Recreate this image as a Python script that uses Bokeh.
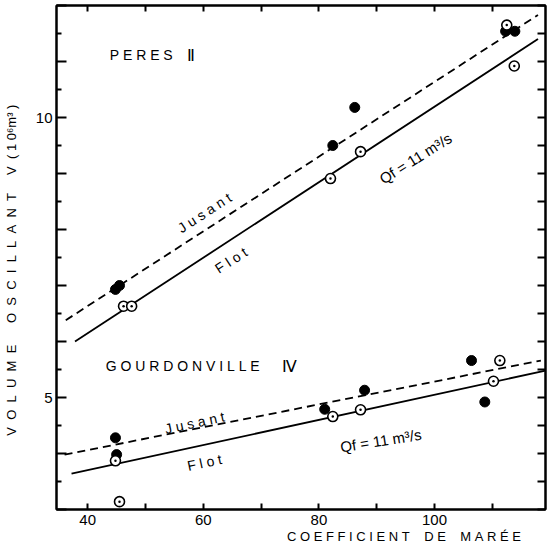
from bokeh.plotting import figure
from bokeh.models import Range1d, LinearAxis, FixedTicker, Label
from bokeh.embed import file_html
from bokeh.resources import INLINE

# ---- data ----
peres_jusant_x = [44.8, 45.5, 82.4, 86.2, 112.3, 113.9]
peres_jusant_y = [6.93, 7.00, 9.50, 10.18, 11.54, 11.54]
peres_flot_x = [46.2, 47.6, 82.0, 87.2, 112.5, 113.8]
peres_flot_y = [6.63, 6.63, 8.91, 9.39, 11.65, 10.92]
gourd_jusant_x = [44.8, 45.0, 81.0, 87.9, 106.4, 108.7]
gourd_jusant_y = [4.28, 3.98, 4.79, 5.13, 5.66, 4.92]
gourd_flot_x = [44.8, 45.5, 82.4, 87.2, 110.2, 111.3]
gourd_flot_y = [3.87, 3.14, 4.66, 4.78, 5.29, 5.66]

peres_jusant_fit_x = [36.2, 117.9]
peres_jusant_fit_y = [6.38, 11.83]
peres_flot_fit_x = [37.8, 117.9]
peres_flot_fit_y = [6.00, 11.40]
gourd_jusant_fit_x = [36.0, 118.4]
gourd_jusant_fit_y = [3.98, 5.66]
gourd_flot_fit_x = [37.2, 119.2]
gourd_flot_fit_y = [3.64, 5.48]

x_ticks = [40, 50, 60, 70, 80, 90, 100, 110]
x_tick_labels = {40: "40", 60: "60", 80: "80", 100: "100"}
y_ticks = [3, 4, 5, 6, 7, 8, 9, 10, 11, 12]
y_minor_ticks = [3.5, 4.5, 5.5, 6.5, 7.5, 8.5, 9.5, 10.5, 11.5]
y_tick_labels = {5: "5", 10: "10"}

NB = "\u00a0"
FONT = "Liberation Sans"


def spaced(word, n=1):
    return (NB * n).join(word)


p = figure(width=547, height=548, output_backend="svg", toolbar_location=None,
           x_range=Range1d(34.6, 119.2), y_range=Range1d(3.0, 12.0),
           min_border_left=56, min_border_right=2, min_border_top=5, min_border_bottom=39)
p.background_fill_color = "white"
p.border_fill_color = "white"
p.outline_line_color = "black"
p.outline_line_width = 2
p.xgrid.visible = False
p.ygrid.visible = False

# bottom axis
xa = p.xaxis[0]
xa.ticker = FixedTicker(ticks=x_ticks)
xa.major_label_overrides = {t: x_tick_labels.get(t, "") for t in x_ticks}
xa.major_tick_in = 6
xa.major_tick_out = 0
xa.minor_tick_line_color = None
xa.axis_line_width = 2
xa.major_tick_line_width = 2
xa.major_label_text_font = FONT
xa.major_label_text_font_size = "15px"
xa.major_label_text_color = "black"
xa.major_label_standoff = 5
xa.axis_label = NB * 57 + spaced("COEFFICIENT") + NB * 4 + spaced("DE") + NB * 4 + spaced("MARÉE")
xa.axis_label_text_font = FONT
xa.axis_label_text_font_size = "13px"
xa.axis_label_text_font_style = "normal"
xa.axis_label_text_color = "black"
xa.axis_label_standoff = 1

# left axis
ya = p.yaxis[0]
ya.ticker = FixedTicker(ticks=y_ticks, minor_ticks=y_minor_ticks)
ya.major_label_overrides = {t: y_tick_labels.get(t, "") for t in y_ticks}
ya.major_tick_in = 10
ya.major_tick_out = 0
ya.minor_tick_in = 5
ya.minor_tick_out = 0
ya.axis_line_width = 2
ya.major_tick_line_width = 2
ya.minor_tick_line_width = 2
ya.major_label_text_font = FONT
ya.major_label_text_font_size = "15px"
ya.major_label_text_color = "black"
ya.major_label_standoff = 4
ya.axis_label = (spaced("VOLUME", 2) + NB * 6 + spaced("OSCILLANT", 2) + NB * 5 + "V" + NB * 2
                 + "(" + NB + "1" + NB + "0\u2076m\u00b3" + NB + ")" + NB * 7)
ya.axis_label_text_font = FONT
ya.axis_label_text_font_size = "13px"
ya.axis_label_text_font_style = "normal"
ya.axis_label_text_color = "black"
ya.axis_label_standoff = 14

# top and right tick rows
top = LinearAxis(ticker=FixedTicker(ticks=x_ticks), major_label_text_font_size="0px",
                 major_label_standoff=0, major_tick_in=6, major_tick_out=0,
                 minor_tick_line_color=None, axis_line_width=2, major_tick_line_width=2)
top.major_label_overrides = {t: "" for t in x_ticks}
p.add_layout(top, "above")
rticks = sorted(y_ticks + y_minor_ticks)
right = LinearAxis(ticker=FixedTicker(ticks=rticks),
                   major_label_text_font_size="0px", major_label_standoff=0,
                   major_tick_in=8, major_tick_out=0, minor_tick_line_color=None,
                   axis_line_width=2, major_tick_line_width=2)
right.major_label_overrides = {t: "" for t in rticks}
p.add_layout(right, "right")

# fitted lines
p.line(peres_jusant_fit_x, peres_jusant_fit_y, line_color="black", line_width=1.8, line_dash="8 5")
p.line(peres_flot_fit_x, peres_flot_fit_y, line_color="black", line_width=1.8)
p.line(gourd_jusant_fit_x, gourd_jusant_fit_y, line_color="black", line_width=1.8, line_dash="8 5")
p.line(gourd_flot_fit_x, gourd_flot_fit_y, line_color="black", line_width=1.8)

# points
for xs, ys in [(peres_jusant_x, peres_jusant_y), (gourd_jusant_x, gourd_jusant_y)]:
    p.scatter(xs, ys, marker="circle", size=10, fill_color="black", line_color="black")
for xs, ys in [(peres_flot_x, peres_flot_y), (gourd_flot_x, gourd_flot_y)]:
    p.scatter(xs, ys, marker="circle_dot", size=10, fill_color="white",
              line_color="black", line_width=1.6)


def lab(x, y, text, size="14px", angle=0.0, align="center", baseline="middle"):
    p.add_layout(Label(x=x, y=y, text=text, text_font=FONT, text_font_size=size,
                       text_color="black", angle=angle, angle_units="deg",
                       text_align=align, text_baseline=baseline))


# titles of the two groups
lab(43.8, 11.11, spaced("PERES"), size="14px", align="left")
lab(57.8, 11.11, "\u2161", size="16px")
lab(43.1, 5.56, spaced("GOURDONVILLE"), size="14px", align="left")
lab(74.9, 5.56, "\u2163", size="16px")

# line labels
lab(60.2, 8.30, spaced("Jusant"), size="14px", angle=33)
lab(64.8, 7.45, spaced("Flot"), size="14px", angle=33)
lab(96.7, 9.27, "Qf = 11 m\u00b3/s", size="15px", angle=32)
lab(58.5, 4.55, spaced("Jusant"), size="14px", angle=12)
lab(60.2, 3.84, spaced("Flot"), size="14px", angle=12)
lab(90.7, 4.23, "Qf = 11 m\u00b3/s", size="15px", angle=9)

open("out.html", "w").write(file_html(p, INLINE))
